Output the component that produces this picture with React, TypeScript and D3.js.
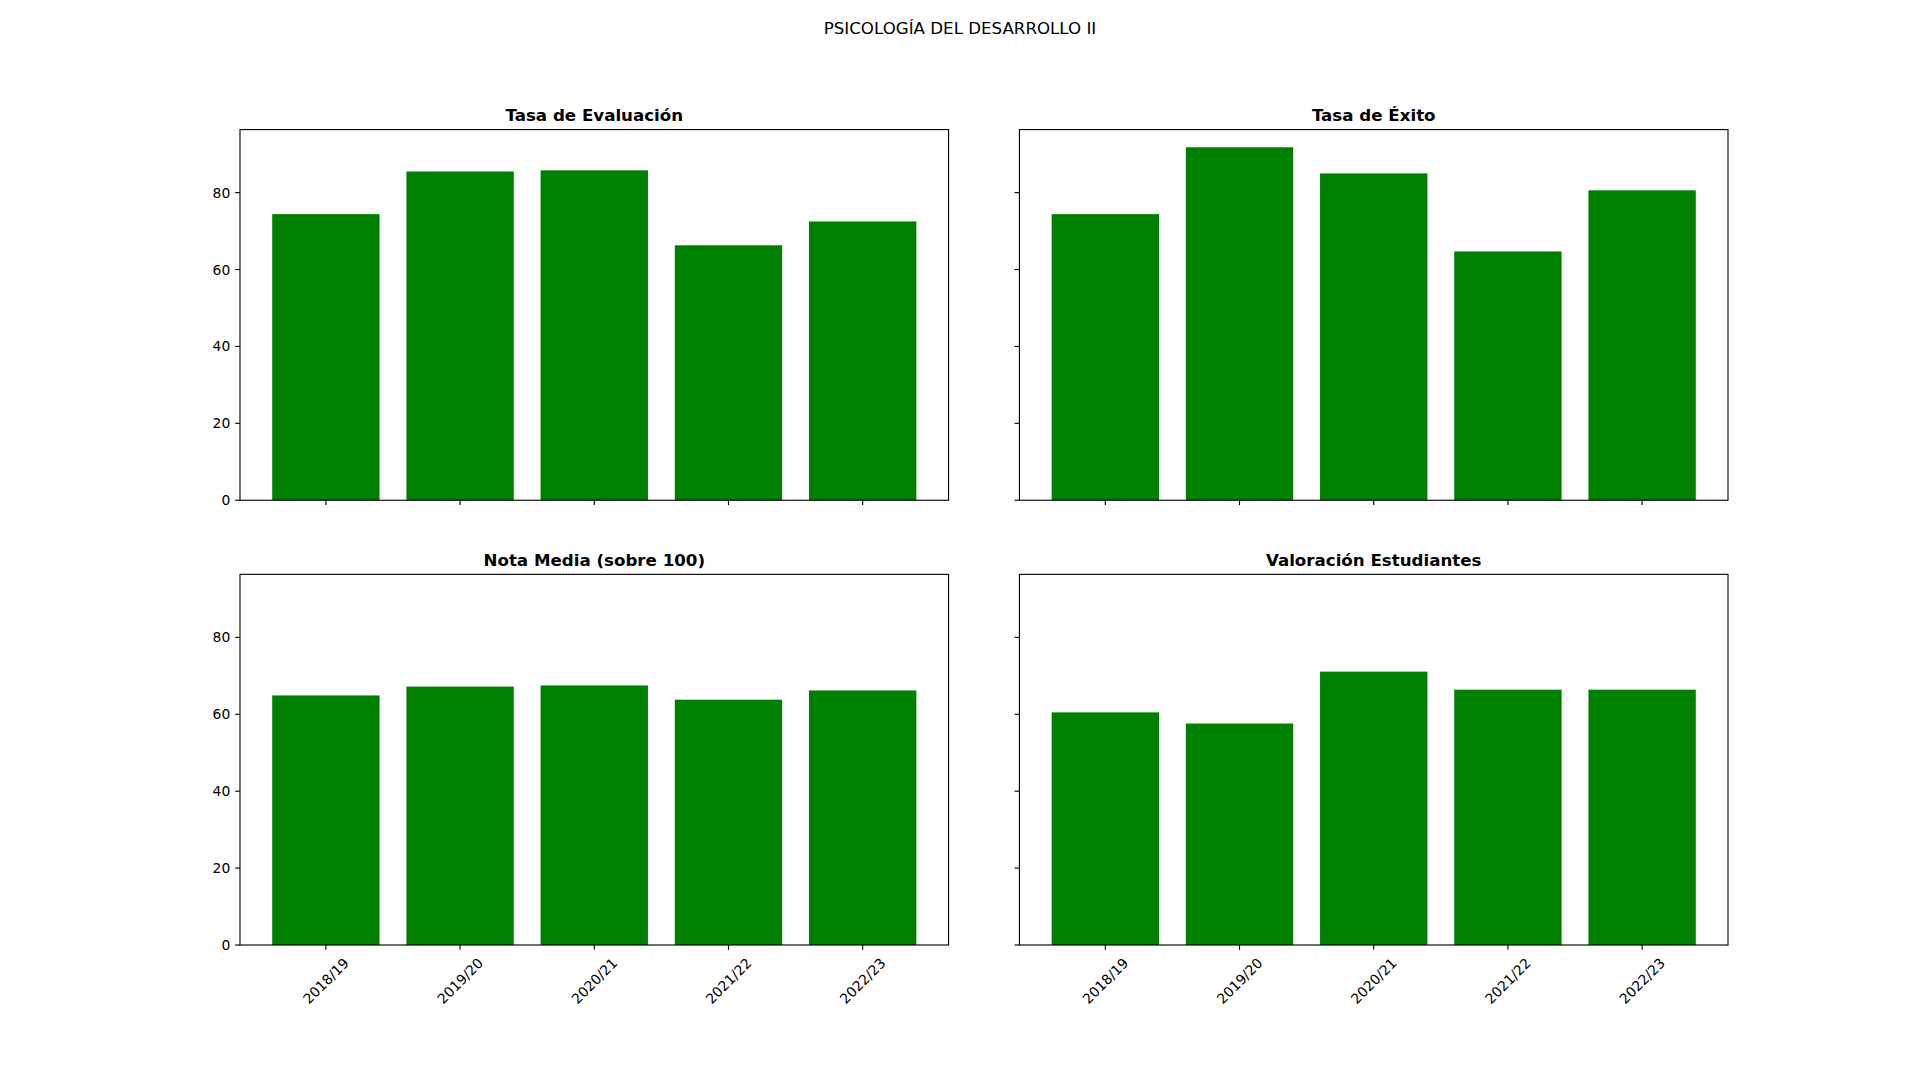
import React from "react";
import * as d3 from "d3";

const categories = ["2018/19", "2019/20", "2020/21", "2021/22", "2022/23"];
const tasaEvaluacion = [74.4, 85.5, 85.8, 66.3, 72.5];
const tasaExito = [74.4, 91.8, 85.0, 64.7, 80.6];
const notaMedia = [64.9, 67.2, 67.5, 63.8, 66.2];
const valoracion = [60.5, 57.6, 71.1, 66.4, 66.4];
const yTicks = [0, 20, 40, 60, 80];
const panelTitles = ["Tasa de Evaluación", "Tasa de Éxito", "Nota Media (sobre 100)", "Valoración Estudiantes"];
const suptitle = "PSICOLOGÍA DEL DESARROLLO II";

const W = 1920;
const H = 1080;
const FIG_LEFT = 0.125 * W;
const FIG_RIGHT = 0.9 * W;
const FIG_TOP = 0.12 * H;
const FIG_BOTTOM = 0.875 * H;
const WSPACE = 0.1;
const HSPACE = 0.2;
const GREEN = "#008000";
const FONT = "DejaVu Sans, Verdana, sans-serif";
const TICK = 4.86;
const PAD = 4.86;
const LW = 1.11;

const seriesList = [tasaEvaluacion, tasaExito, notaMedia, valoracion];

export default function App() {
  const axW = (FIG_RIGHT - FIG_LEFT) / (2 + WSPACE);
  const axH = (FIG_BOTTOM - FIG_TOP) / (2 + HSPACE);
  const allMax = d3.max(seriesList.flat()) as number;
  const yMax = allMax * 1.05;

  const panels = seriesList.map((vals, i) => {
    const col = i % 2;
    const row = Math.floor(i / 2);
    const x0 = FIG_LEFT + col * axW * (1 + WSPACE);
    const y0 = FIG_TOP + row * axH * (1 + HSPACE);
    const x = d3.scaleLinear().domain([-0.64, categories.length - 1 + 0.64]).range([x0, x0 + axW]);
    const y = d3.scaleLinear().domain([0, yMax]).range([y0 + axH, y0]);
    const bw = x(0.8) - x(0);
    return (
      <g key={i}>
        {vals.map((v, j) => (
          <rect key={j} x={x(j - 0.4)} y={y(v)} width={bw} height={y(0) - y(v)} fill={GREEN} />
        ))}
        <rect x={x0} y={y0} width={axW} height={axH} fill="none" stroke="#000" strokeWidth={LW} />
        {yTicks.map((t) => (
          <g key={t}>
            <line x1={x0 - TICK} x2={x0} y1={y(t)} y2={y(t)} stroke="#000" strokeWidth={LW} />
            {col === 0 && (
              <text x={x0 - TICK - PAD} y={y(t)} textAnchor="end" dominantBaseline="central" fontSize={13.89} fontFamily={FONT} fill="#000">
                {t}
              </text>
            )}
          </g>
        ))}
        {categories.map((c, j) => {
          const cx = x(j);
          const by = y0 + axH;
          const cy = by + TICK + PAD + 26.1;
          return (
            <g key={c}>
              <line x1={cx} x2={cx} y1={by} y2={by + TICK} stroke="#000" strokeWidth={LW} />
              {row === 1 && (
                <text x={cx} y={cy} transform={`rotate(-45 ${cx} ${cy})`} textAnchor="middle" dominantBaseline="central" fontSize={13.89} fontFamily={FONT} fill="#000">
                  {c}
                </text>
              )}
            </g>
          );
        })}
        <text x={x0 + axW / 2} y={y0 - 8.33} textAnchor="middle" fontSize={16.67} fontWeight="bold" fontFamily={FONT} fill="#000">
          {panelTitles[i]}
        </text>
      </g>
    );
  });

  return (
    <div style={{ position: "absolute", left: 0, top: 0 }}>
      <svg width={W} height={H} style={{ display: "block", background: "#fff" }}>
        <rect x={0} y={0} width={W} height={H} fill="#fff" />
        <text x={W / 2} y={34} textAnchor="middle" fontSize={16.67} fontFamily={FONT} fill="#000">
          {suptitle}
        </text>
        {panels}
      </svg>
    </div>
  );
}
